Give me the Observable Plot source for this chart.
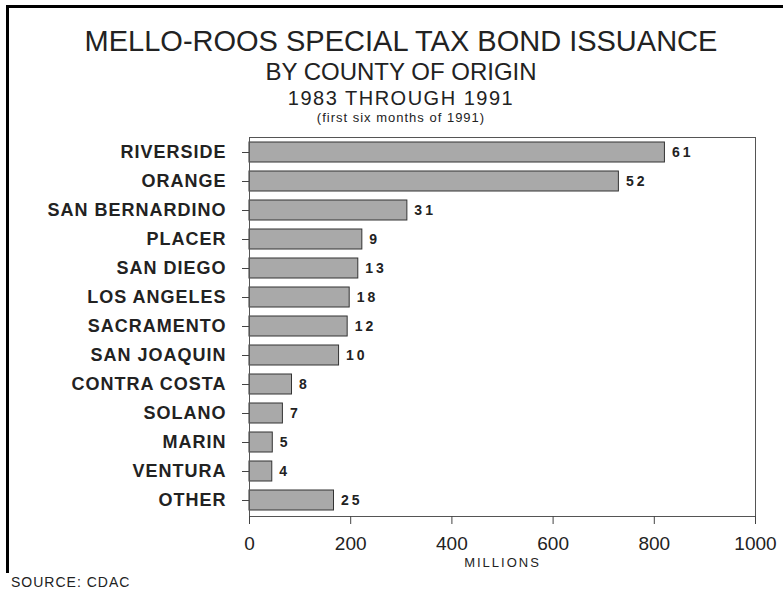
<!DOCTYPE html>
<html>
<head>
<meta charset="utf-8">
<script src="https://cdn.jsdelivr.net/npm/d3@7"></script>
<script src="https://cdn.jsdelivr.net/npm/@observablehq/plot@0.6"></script>
<style>
  html, body { margin: 0; padding: 0; background: #fff; }
  #page { position: relative; width: 783px; height: 591px; overflow: hidden; font-family: 'Liberation Sans', Arial, sans-serif; color: #222; }
  .t { position: absolute; left: 0; width: 802px; text-align: center; white-space: nowrap; line-height: 1; }
  #bordTop { position: absolute; left: 6px; top: 5px; width: 777px; height: 3px; background: #000; }
  #bordLeft { position: absolute; left: 6px; top: 5px; width: 3px; height: 568px; background: #000; }
  #chart { position: absolute; left: 0; top: 120px; }
  #source { position: absolute; left: 11px; top: 575px; font-size: 14px; letter-spacing: 1px; line-height: 1; }
</style>
</head>
<body>
<div id="page">
  <div id="bordTop"></div>
  <div id="bordLeft"></div>
  <div class="t" id="t1" style="top:27px;font-size:29px;">MELLO-ROOS SPECIAL TAX BOND ISSUANCE</div>
  <div class="t" id="t2" style="top:60px;font-size:24px;">BY COUNTY OF ORIGIN</div>
  <div class="t" id="t3" style="top:88px;font-size:20px;letter-spacing:1.5px;">1983 THROUGH 1991</div>
  <div class="t" id="t4" style="top:111px;font-size:13px;letter-spacing:1px;">(first six months of 1991)</div>
  <div id="chart"></div>
  <div id="source">SOURCE: CDAC</div>
</div>
<script>
const counties = ["RIVERSIDE","ORANGE","SAN BERNARDINO","PLACER","SAN DIEGO","LOS ANGELES","SACRAMENTO","SAN JOAQUIN","CONTRA COSTA","SOLANO","MARIN","VENTURA","OTHER"];
const millions = [821, 730, 312, 223, 215, 198, 194, 177, 84, 66, 46, 45, 167];
const issues = [61, 52, 31, 9, 13, 18, 12, 10, 8, 7, 5, 4, 25];
const xTicks = [0, 200, 400, 600, 800, 1000];
const xLabel = "MILLIONS";

const data = counties.map((c, i) => ({county: c, value: millions[i], count: issues[i]}));

const chart = Plot.plot({
  width: 783,
  height: 455,
  marginTop: 17,
  marginBottom: 59,
  marginLeft: 249,
  marginRight: 28,
  style: {fontFamily: "'Liberation Sans', Arial, sans-serif", color: "#222", background: "transparent", overflow: "visible"},
  x: {domain: [0, 1000], ticks: xTicks},
  y: {domain: counties, paddingInner: 0.3, paddingOuter: 0.07},
  marks: [
    Plot.barX(data, {x: "value", y: "county", fill: "#a9a9a9", stroke: "#333", strokeWidth: 1}),
    Plot.frame({stroke: "#555"}),
    Plot.axisY({tickSize: 7, tickPadding: 16, fontSize: 18, fontWeight: "bold", label: null, stroke: "#444"}),
    Plot.axisX({ticks: xTicks, tickFormat: d => String(d), tickSize: 8, tickPadding: 12, fontSize: 19, label: null, stroke: "#444"}),
    Plot.text(data, {x: "value", y: "county", text: d => String(d.count), dx: 7, textAnchor: "start", fontSize: 14, fontWeight: "bold"}),
    Plot.text([xLabel], {text: d => d, frameAnchor: "bottom", dy: 50, fontSize: 13})
  ]
});
document.getElementById("chart").appendChild(chart);

// letter spacing tweaks
chart.querySelectorAll('g[aria-label="y-axis tick label"] text').forEach(t => t.setAttribute("letter-spacing", "1"));
const textGroups = chart.querySelectorAll('g[aria-label="text"]');
if (textGroups[0]) textGroups[0].querySelectorAll("text").forEach(t => t.setAttribute("letter-spacing", "3"));
if (textGroups[1]) textGroups[1].querySelectorAll("text").forEach(t => t.setAttribute("letter-spacing", "2"));
</script>
</body>
</html>
